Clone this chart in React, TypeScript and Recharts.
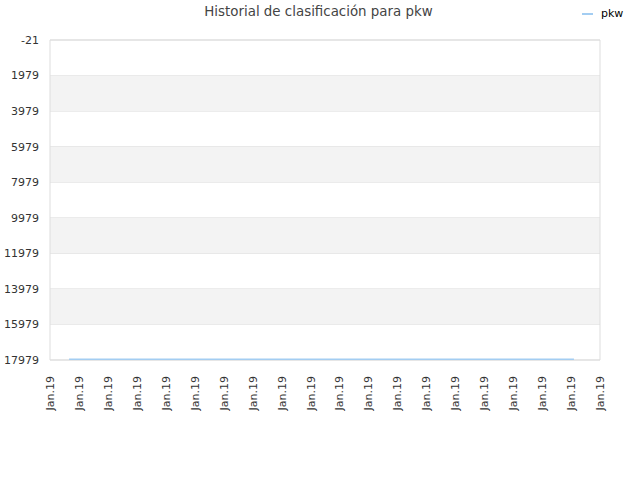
import React from "react";
import {
  LineChart, Line, XAxis, YAxis, CartesianGrid, ReferenceArea,
} from "recharts";

// positions along the time axis (in tick units) and rank values
const dayPositions = [0.66, 3, 6, 9, 12, 15, 18.1];
const pkwRank = [17930, 17930, 17930, 17930, 17930, 17930, 17930];

const yTicks = [-21, 1979, 3979, 5979, 7979, 9979, 11979, 13979, 15979, 17979];
const xTicks = [0, 1, 2, 3, 4, 5, 6, 7, 8, 9, 10, 11, 12, 13, 14, 15, 16, 17, 18, 19];
const xTickLabel = "Jan.19";
const bands = [[1979, 3979], [5979, 7979], [9979, 11979], [13979, 15979]];

const chartData = dayPositions.map((x, i) => ({ x, rank: pkwRank[i] }));

const FONT = "DejaVu Sans, sans-serif";

const XTick = ({ x, y }: any) => (
  <text
    x={0}
    y={0}
    transform={`translate(${x + 4},${y + 8}) rotate(-90)`}
    textAnchor="end"
    fontSize={11}
    fontFamily={FONT}
    fill="#333"
  >
    {xTickLabel}
  </text>
);

export default function App() {
  return (
    <div style={{ position: "absolute", left: 0, top: 0, width: 640, height: 480, background: "#fff", fontFamily: FONT }}>
      <div style={{ position: "absolute", top: 4, left: 0, width: 637, textAlign: "center", fontSize: 13.4, color: "#444" }}>
        Historial de clasificación para pkw
      </div>
      <div style={{ position: "absolute", top: 7, left: 582, fontSize: 11, color: "#000", display: "flex", alignItems: "center" }}>
        <span style={{ display: "inline-block", width: 11, height: 2, background: "#a3cdf2", marginRight: 8 }} />
        pkw
      </div>
      <LineChart
        width={640}
        height={480}
        data={chartData}
        margin={{ top: 40, right: 40, left: 0, bottom: 0 }}
      >
        {bands.map(([a, b]) => (
          <ReferenceArea key={a} x1={0} x2={19} y1={a} y2={b} fill="#f3f3f3" fillOpacity={1} stroke="none" />
        ))}
        <CartesianGrid vertical={false} stroke="#e0e0e0" />
        <ReferenceArea x1={0} x2={19} y1={-21} y2={17979} fill="none" stroke="#dddddd" strokeOpacity={1} />
        <XAxis
          dataKey="x"
          type="number"
          domain={[0, 19]}
          ticks={xTicks}
          interval={0}
          height={120}
          axisLine={false}
          tickLine={false}
          tick={<XTick />}
        />
        <YAxis
          type="number"
          reversed
          domain={[-21, 17979]}
          ticks={yTicks}
          interval={0}
          width={50}
          axisLine={false}
          tickLine={false}
          tickSize={0}
          tickMargin={11}
          tick={{ fill: "#333", fontSize: 11, fontFamily: FONT }}
        />
        <Line
          type="linear"
          dataKey="rank"
          stroke="#a3cdf2"
          strokeWidth={1.5}
          dot={false}
          isAnimationActive={false}
        />
      </LineChart>
    </div>
  );
}
